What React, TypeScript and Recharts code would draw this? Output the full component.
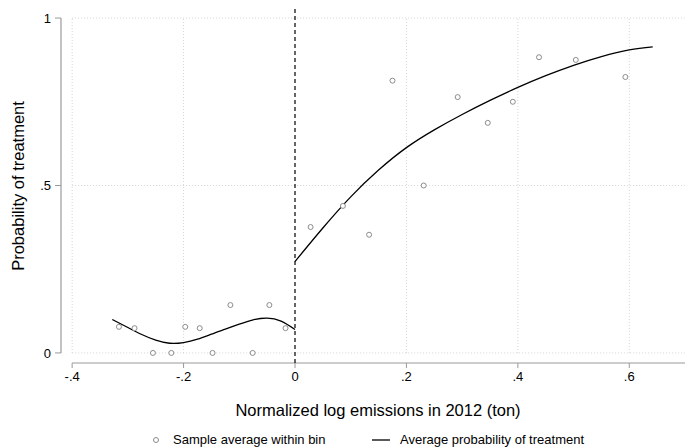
import React from 'react';
import { ComposedChart, Line, Scatter, XAxis, YAxis, ReferenceLine } from 'recharts';

// Binned sample averages
const binX = [-0.316, -0.288, -0.255, -0.222, -0.197, -0.171, -0.148, -0.116, -0.076, -0.046, -0.017, 0.028, 0.086, 0.133, 0.175, 0.231, 0.292, 0.346, 0.391, 0.438, 0.504, 0.593];
const binY = [0.078, 0.074, 0, 0, 0.078, 0.074, 0, 0.143, 0, 0.143, 0.074, 0.376, 0.439, 0.353, 0.813, 0.5, 0.764, 0.687, 0.75, 0.883, 0.875, 0.824];

// Fitted probability, left of cutoff
const leftX = [-0.328, -0.3, -0.275, -0.25, -0.225, -0.2, -0.175, -0.15, -0.125, -0.1, -0.075, -0.05, -0.025, 0];
const leftY = [0.1, 0.076, 0.055, 0.038, 0.029, 0.031, 0.041, 0.056, 0.071, 0.086, 0.099, 0.104, 0.095, 0.07];

// Fitted probability, right of cutoff
const rightX = [0, 0.05, 0.1, 0.15, 0.2, 0.25, 0.3, 0.35, 0.4, 0.45, 0.5, 0.55, 0.6, 0.642];
const rightY = [0.273, 0.373, 0.466, 0.546, 0.613, 0.666, 0.712, 0.754, 0.793, 0.828, 0.859, 0.885, 0.905, 0.914];

const xTicks = [-0.4, -0.2, 0, 0.2, 0.4, 0.6];
const yTicks = [0, 0.5, 1];

const xDomain = [-0.42, 0.7];
const yDomain = [-0.03, 1.027];

const points = binX.map((x, i) => ({ x, y: binY[i] }));
const leftFit = leftX.map((x, i) => ({ x, y: leftY[i] }));
const rightFit = rightX.map((x, i) => ({ x, y: rightY[i] }));

const fmt = (v: number) => {
  if (v === 0) return '0';
  const s = String(Math.abs(v)).replace(/^0/, '');
  return (v < 0 ? '-' : '') + s;
};

const FONT = '"Liberation Sans", Arial, Helvetica, sans-serif';
const AXIS = '#9a9a9a';
const GRID = '#d4d4d4';

const Circle = (props: any) => {
  const { cx, cy } = props;
  return <circle cx={cx} cy={cy} r={2.5} fill="#fff" stroke="#8c8c8c" strokeWidth={1} />;
};

export default function App() {
  return (
    <div style={{ position: 'absolute', left: 0, top: 0, width: 690, height: 448, background: '#fff', fontFamily: FONT }}>
      <ComposedChart width={690} height={448} margin={{ top: 9, right: 5, bottom: 25, left: 0 }}>
        <XAxis
          type="number"
          dataKey="x"
          domain={xDomain}
          ticks={xTicks}
          tickFormatter={fmt}
          allowDataOverflow
          axisLine={false}
          tickLine={{ stroke: AXIS }}
          tickSize={5}
          tickMargin={4}
          height={60}
          tick={{ fill: '#000', fontSize: 13, fontFamily: FONT }}
          label={{ value: 'Normalized log emissions in 2012 (ton)', position: 'insideBottom', offset: 7, dx: 5, fill: '#000', fontSize: 16.5, fontFamily: FONT }}
        />
        <YAxis
          type="number"
          dataKey="y"
          domain={yDomain}
          ticks={yTicks}
          tickFormatter={fmt}
          allowDataOverflow
          axisLine={false}
          tickLine={{ stroke: AXIS }}
          tickSize={6}
          tickMargin={4}
          width={61}
          tick={{ fill: '#000', fontSize: 13, fontFamily: FONT }}
          label={{ value: 'Probability of treatment', angle: -90, position: 'insideLeft', offset: 18, fill: '#000', fontSize: 16.5, fontFamily: FONT, style: { textAnchor: 'middle' } }}
        />
        {xTicks.filter((t) => t !== 0).map((t) => (
          <ReferenceLine key={'vx' + t} segment={[{ x: t, y: 0 }, { x: t, y: 1 }]} stroke={GRID} strokeDasharray="1 2" />
        ))}
        {yTicks.map((t) => (
          <ReferenceLine key={'hy' + t} segment={[{ x: -0.4, y: t }, { x: 0.7, y: t }]} stroke={GRID} strokeDasharray="1 2" />
        ))}
        <ReferenceLine segment={[{ x: -0.42, y: 0 }, { x: -0.42, y: 1 }]} stroke={AXIS} strokeWidth={1.2} />
        <ReferenceLine segment={[{ x: -0.4, y: -0.03 }, { x: 0.7, y: -0.03 }]} stroke={AXIS} strokeWidth={1.2} />
        <ReferenceLine x={0} stroke="#000" strokeDasharray="4 3" strokeWidth={1.2} />
        <Scatter data={points} dataKey="y" shape={<Circle />} isAnimationActive={false} />
        <Line data={leftFit} dataKey="y" type="natural" stroke="#000" strokeWidth={1.3} dot={false} isAnimationActive={false} />
        <Line data={rightFit} dataKey="y" type="natural" stroke="#000" strokeWidth={1.3} dot={false} isAnimationActive={false} />
      </ComposedChart>
      <div style={{ position: 'absolute', left: 0, top: 430, width: 690, height: 18, fontSize: 13, color: '#000', fontFamily: FONT }}>
        <svg width={690} height={18} style={{ position: 'absolute', left: 0, top: 0 }}>
          <circle cx={156} cy={10} r={2.5} fill="#fff" stroke="#8c8c8c" strokeWidth={1} />
          <line x1={372} x2={390} y1={10} y2={10} stroke="#000" strokeWidth={1.3} />
        </svg>
        <span style={{ position: 'absolute', left: 173, top: 1, lineHeight: '18px', whiteSpace: 'nowrap' }}>Sample average within bin</span>
        <span style={{ position: 'absolute', left: 400, top: 1, lineHeight: '18px', whiteSpace: 'nowrap' }}>Average probability of treatment</span>
      </div>
    </div>
  );
}
